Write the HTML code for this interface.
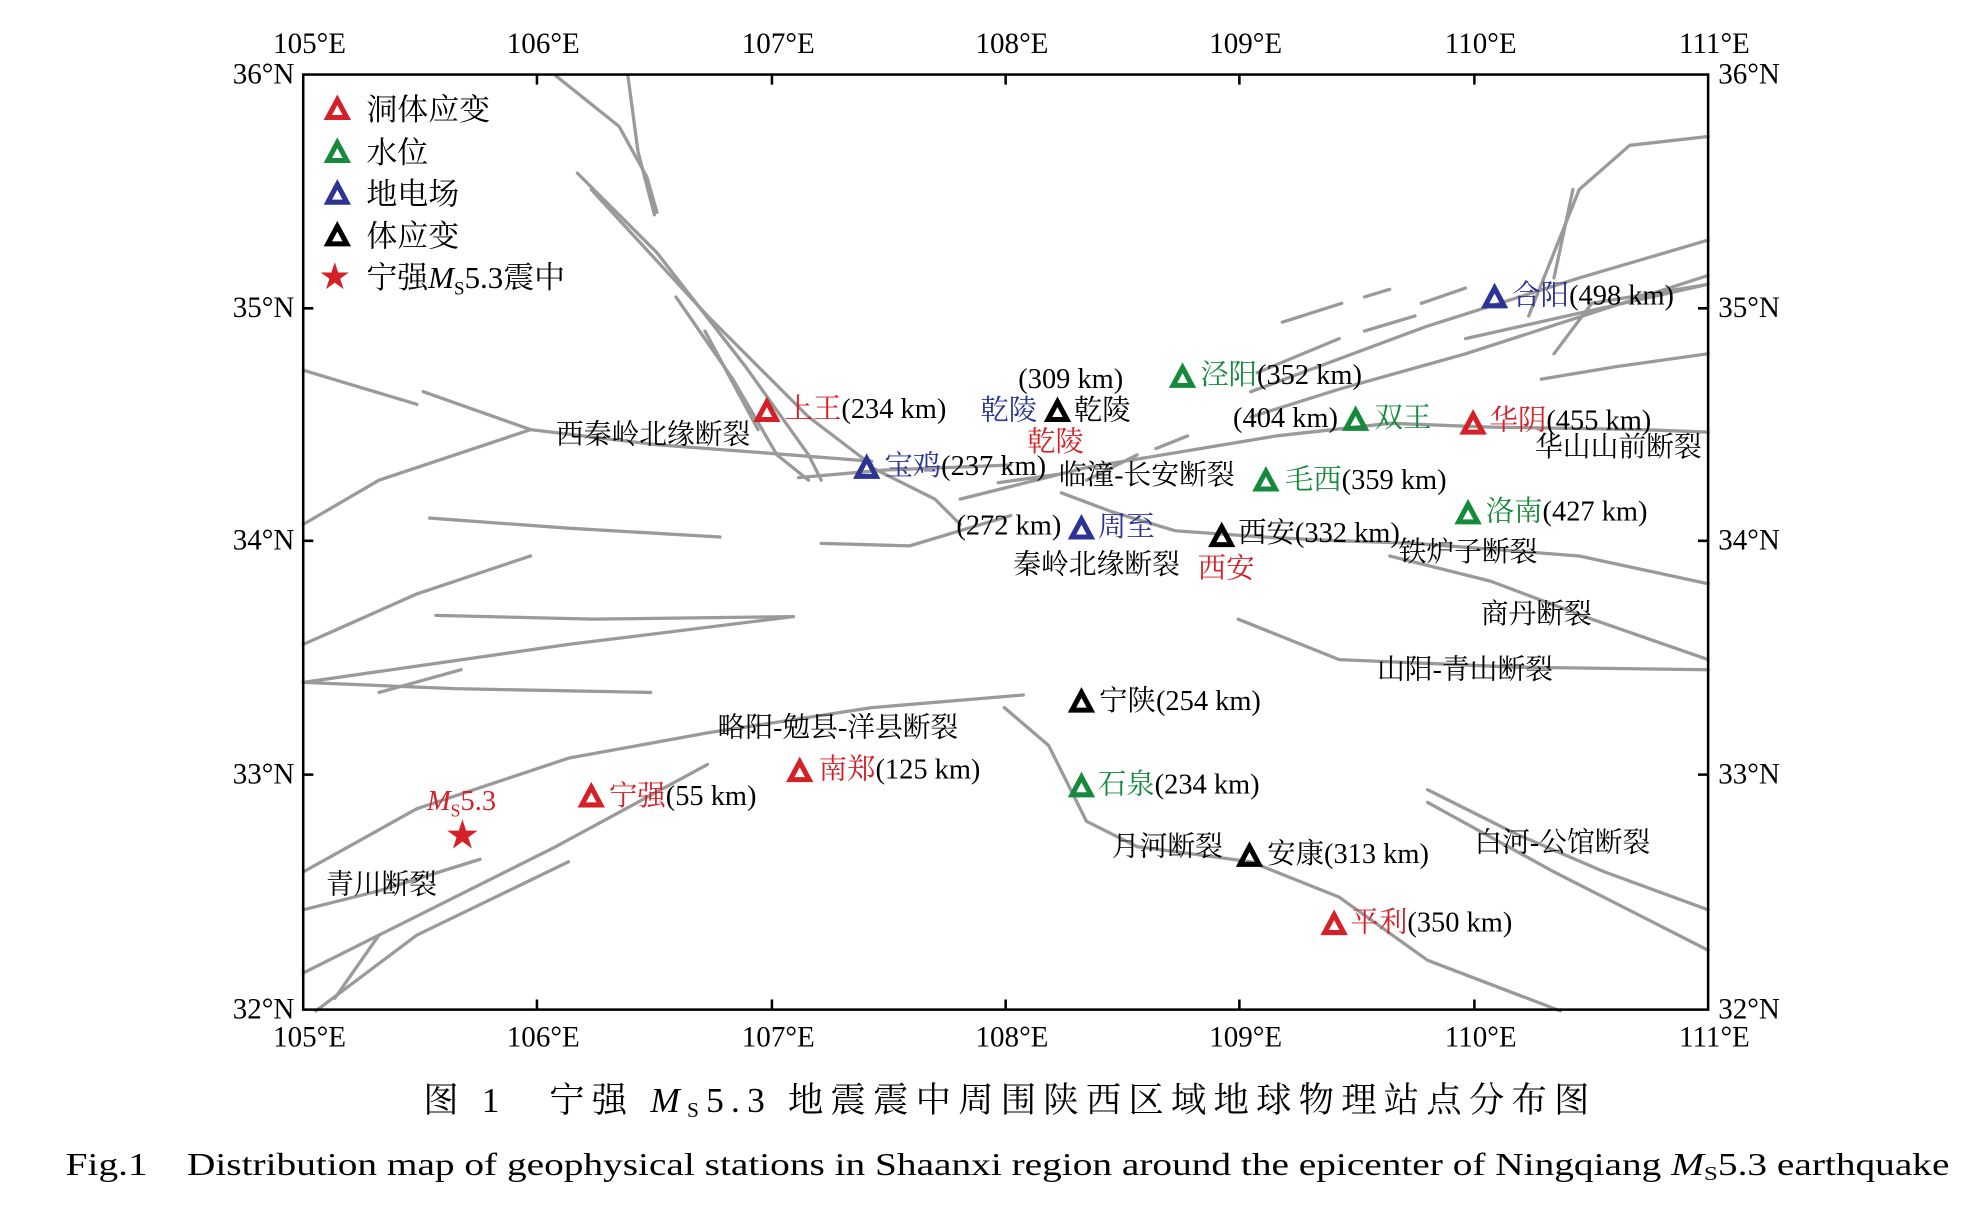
<!DOCTYPE html>
<html><head><meta charset="utf-8"><style>
html,body{margin:0;padding:0;background:#fff;}
svg{display:block;}
text{font-family:"Liberation Serif","Noto Serif CJK SC",serif;}
</style></head><body>
<svg width="1981" height="1208" viewBox="0 0 1568 956" preserveAspectRatio="none" xmlns="http://www.w3.org/2000/svg">
<defs>
<path id="tri" d="M0,-8 L7.5,6 L-7.5,6 Z" fill="none" stroke-width="4" stroke-linejoin="miter"/>
</defs>
<g fill="none" stroke="#9a9a9a" stroke-width="2.6" stroke-linecap="round" stroke-linejoin="round">
<path d="M440,60 L490,100 L512,140 L520,168"/>
<path d="M497,60 L505,120 L518,170"/>
<path d="M457,137 L520,200 L590,290 L640,360 L650,380"/>
<path d="M468,150 L560,250 L640,330 L690,368"/>
<path d="M535,235 L580,300 L615,360 L640,380"/>
<path d="M558,262 L600,340"/>
<path d="M240,293 L330,320"/>
<path d="M335,310 L420,340 L520,352 L600,358 L690,365"/>
<path d="M240,415 L300,380 L420,340"/>
<path d="M632,378 L700,372 L800,368"/>
<path d="M690,370 L740,395 L760,415"/>
<path d="M340,410 L450,418 L570,425"/>
<path d="M650,430 L720,432 L760,420 L800,408"/>
<path d="M240,510 L330,470 L420,440"/>
<path d="M345,487 L470,490 L628,488"/>
<path d="M240,540 L450,510 L628,488"/>
<path d="M240,540 L360,545 L515,548"/>
<path d="M300,548 L365,530"/>
<path d="M240,690 L330,640 L450,600 L560,580 L690,560 L810,550"/>
<path d="M240,770 L340,720 L440,670 L560,605"/>
<path d="M250,800 L330,740 L450,682"/>
<path d="M240,720 L300,705 L380,680"/>
<path d="M265,790 L300,740"/>
<path d="M795,560 L830,590 L860,650 L900,670 L990,682 L1060,710 L1130,760 L1235,800"/>
<path d="M760,395 L800,385 L860,370 L950,355 L1010,345 L1100,335 L1180,338 L1300,340 L1352,342"/>
<path d="M790,382 L840,375"/>
<path d="M840,390 L880,405 L930,420 L1000,425 L1060,428 L1120,430 L1250,440 L1352,462"/>
<path d="M980,490 L1060,522 L1200,528 L1352,530"/>
<path d="M1100,440 L1180,460 L1260,490 L1352,522"/>
<path d="M1130,625 L1200,660 L1270,690 L1352,720"/>
<path d="M1130,635 L1230,690 L1352,752"/>
<path d="M990,330 L1060,308 L1160,280 L1352,218"/>
<path d="M990,310 L1130,258 L1250,220 L1352,190"/>
<path d="M995,295 L1060,268 M1080,262 L1120,250"/>
<path d="M1015,255 L1062,240 M1080,235 L1100,229"/>
<path d="M1125,240 L1160,228"/>
<path d="M1210,250 L1250,150 L1290,115 L1352,108"/>
<path d="M1230,220 L1245,150"/>
<path d="M1160,268 L1352,225"/>
<path d="M1220,300 L1280,290 L1352,280"/>
<path d="M1230,280 L1260,240 L1352,225"/>
<path d="M860,380 L900,360 M915,355 L940,345"/>
</g>
<rect x="240" y="59" width="1112" height="740" fill="none" stroke="#000" stroke-width="2"/>
<g stroke="#000" stroke-width="2">
<path d="M425,59v8M611,59v8M796,59v8M981,59v8M1167,59v8M425,799v-8M611,799v-8M796,799v-8M981,799v-8M1167,799v-8"/>
<path d="M240,244h8M240,428h8M240,613h8M1352,244h-8M1352,428h-8M1352,613h-8"/>
</g>
<g font-size="23" fill="#000" text-anchor="middle">
<text x="245" y="42">105°E</text><text x="430" y="42">106°E</text><text x="616" y="42">107°E</text><text x="801" y="42">108°E</text><text x="986" y="42">109°E</text><text x="1172" y="42">110°E</text><text x="1357" y="42">111°E</text>
<text x="245" y="828">105°E</text><text x="430" y="828">106°E</text><text x="616" y="828">107°E</text><text x="801" y="828">108°E</text><text x="986" y="828">109°E</text><text x="1172" y="828">110°E</text><text x="1357" y="828">111°E</text>
</g>
<g font-size="23" fill="#000">
<text x="233" y="66" text-anchor="end">36°N</text><text x="233" y="251" text-anchor="end">35°N</text><text x="233" y="435" text-anchor="end">34°N</text><text x="233" y="620" text-anchor="end">33°N</text><text x="233" y="806" text-anchor="end">32°N</text>
<text x="1360" y="66">36°N</text><text x="1360" y="251">35°N</text><text x="1360" y="435">34°N</text><text x="1360" y="620">33°N</text><text x="1360" y="806">32°N</text>
</g>
<g font-size="24.5">
<use href="#tri" x="267" y="87" stroke="#d42027"/><text x="290" y="95">洞体应变</text>
<use href="#tri" x="267" y="121" stroke="#168a3c"/><text x="290" y="129">水位</text>
<use href="#tri" x="267" y="154" stroke="#2b3393"/><text x="290" y="162">地电场</text>
<use href="#tri" x="267" y="187" stroke="#000"/><text x="290" y="195">体应变</text>
<text x="265" y="227" font-size="24" fill="#d42027" text-anchor="middle">★</text><text x="290" y="228">宁强<tspan font-style="italic">M</tspan><tspan font-size="15" dy="5">S</tspan><tspan dy="-5">5.3震中</tspan></text>
</g>
<g font-size="22.5" fill="#000">
<use href="#tri" x="607" y="326" stroke="#d42027"/><text x="621" y="331"><tspan fill="#d42027">上王</tspan>(234 km)</text>
<use href="#tri" x="686" y="371" stroke="#2b3393"/><text x="700" y="376"><tspan fill="#2b3393">宝鸡</tspan>(237 km)</text>
<use href="#tri" x="837" y="326" stroke="#000"/><text x="806" y="307">(309 km)</text><text x="776" y="332" fill="#2b3393">乾陵</text><text x="850" y="332">乾陵</text><text x="813" y="357" fill="#d42027">乾陵</text>
<use href="#tri" x="936" y="299" stroke="#168a3c"/><text x="950" y="304"><tspan fill="#168a3c">泾阳</tspan>(352 km)</text>
<use href="#tri" x="1073" y="333" stroke="#168a3c"/><text x="976" y="338">(404 km)</text><text x="1088" y="338" fill="#168a3c">双王</text>
<use href="#tri" x="1166" y="336" stroke="#d42027"/><text x="1179" y="340"><tspan fill="#d42027">华阴</tspan>(455 km)</text>
<use href="#tri" x="1183" y="236" stroke="#2b3393"/><text x="1197" y="241"><tspan fill="#2b3393">合阳</tspan>(498 km)</text>
<use href="#tri" x="1002" y="381" stroke="#168a3c"/><text x="1017" y="387"><tspan fill="#168a3c">毛西</tspan>(359 km)</text>
<use href="#tri" x="1162" y="407" stroke="#168a3c"/><text x="1176" y="412"><tspan fill="#168a3c">洛南</tspan>(427 km)</text>
<use href="#tri" x="856" y="419" stroke="#2b3393"/><text x="757" y="423">(272 km)</text><text x="869" y="424" fill="#2b3393">周至</text>
<use href="#tri" x="967" y="425" stroke="#000"/><text x="980" y="429">西安(332 km)</text><text x="948" y="457" fill="#d42027">西安</text>
<use href="#tri" x="856" y="556" stroke="#000"/><text x="870" y="562">宁陕(254 km)</text>
<use href="#tri" x="856" y="623" stroke="#168a3c"/><text x="869" y="628"><tspan fill="#168a3c">石泉</tspan>(234 km)</text>
<use href="#tri" x="989" y="678" stroke="#000"/><text x="1003" y="683">安康(313 km)</text>
<use href="#tri" x="1056" y="732" stroke="#d42027"/><text x="1069" y="737"><tspan fill="#d42027">平利</tspan>(350 km)</text>
<use href="#tri" x="633" y="611" stroke="#d42027"/><text x="648" y="616"><tspan fill="#d42027">南郑</tspan>(125 km)</text>
<use href="#tri" x="468" y="631" stroke="#d42027"/><text x="482" y="637"><tspan fill="#d42027">宁强</tspan>(55 km)</text>
<text x="366" y="670" font-size="26" fill="#d42027" text-anchor="middle">★</text>
<text x="338" y="641" fill="#d42027"><tspan font-style="italic">M</tspan><tspan font-size="14" dy="5">S</tspan><tspan dy="-5">5.3</tspan></text>
</g>
<g font-size="22" fill="#000">
<text x="440" y="351">西秦岭北缘断裂</text>
<text x="838" y="383">临潼-长安断裂</text>
<text x="1215" y="361">华山山前断裂</text>
<text x="1107" y="444">铁炉子断裂</text>
<text x="802" y="454">秦岭北缘断裂</text>
<text x="1172" y="493">商丹断裂</text>
<text x="1090" y="537">山阳-青山断裂</text>
<text x="568" y="583">略阳-勉县-洋县断裂</text>
<text x="880" y="677">月河断裂</text>
<text x="1167" y="674">白河-公馆断裂</text>
<text x="258" y="707">青川断裂</text>
</g>
<text x="335" y="880" font-size="28" textLength="923" lengthAdjust="spacing">图 1　宁强 <tspan font-style="italic">M</tspan><tspan font-size="17" dy="4">S</tspan><tspan dy="-4">5.3 地震震中周围陕西区域地球物理站点分布图</tspan></text>
<text x="52" y="930" font-size="25" textLength="1491" lengthAdjust="spacingAndGlyphs">Fig.1　Distribution map of geophysical stations in Shaanxi region around the epicenter of Ningqiang <tspan font-style="italic">M</tspan><tspan font-size="16" dy="4">S</tspan><tspan dy="-4">5.3 earthquake</tspan></text>
</svg>
</body></html>
